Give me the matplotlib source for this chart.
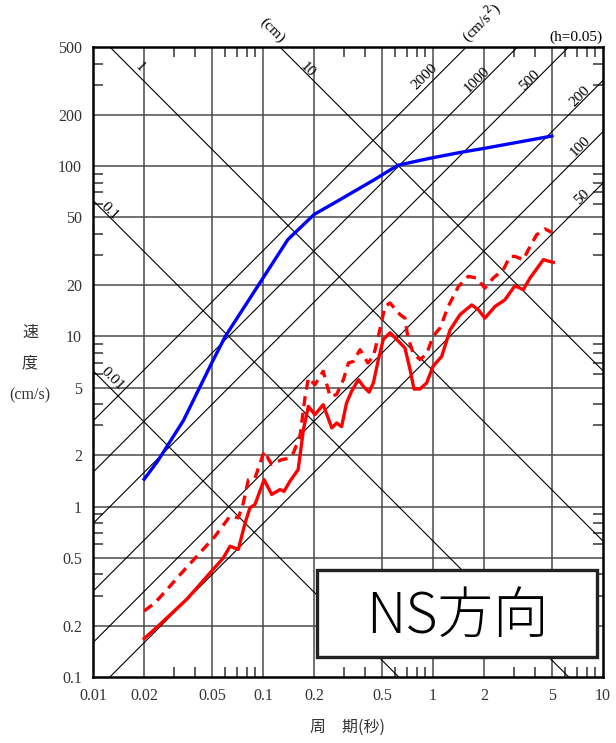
import numpy as np
import matplotlib
matplotlib.use('Agg')
import matplotlib.pyplot as plt
from matplotlib.ticker import FixedLocator, NullFormatter
from matplotlib.patches import Rectangle

# ------------------------------ DATA -----------------------------------------
# Blue curve (period [s], velocity [cm/s])
T_blue = [0.02, 0.024, 0.034, 0.05, 0.06, 0.1, 0.14, 0.2, 0.28, 0.45, 0.62,
          0.84, 1.0, 1.5, 2.0, 5.0]
Sv_blue = [1.45, 1.85, 3.2, 7.0, 10.0, 22.0, 37.0, 52.0, 63.0, 83.0, 101.0,
           108.0, 112.0, 121.0, 127.0, 150.0]

# Red solid curve
T_red = [0.02, 0.0248, 0.0356, 0.0584, 0.064, 0.0716, 0.0784, 0.0838, 0.0897, 0.1015,
         0.1125, 0.126, 0.133, 0.144, 0.161, 0.173, 0.185, 0.202, 0.226, 0.254, 0.271,
         0.29, 0.31, 0.332, 0.364, 0.389, 0.421, 0.446, 0.477, 0.51, 0.559, 0.611,
         0.684, 0.733, 0.773, 0.839, 0.918, 1.0, 1.125, 1.26, 1.44, 1.69, 1.85, 2.02,
         2.32, 2.65, 3.03, 3.4, 3.72, 4.46, 5.1]
Sv_red = [0.168, 0.204, 0.286, 0.50, 0.586, 0.561, 0.80, 0.985, 1.03, 1.44,
          1.18, 1.26, 1.23, 1.41, 1.65, 2.84, 3.88, 3.47, 3.97, 2.90, 3.1,
          2.95, 4.06, 4.76, 5.57, 5.09, 4.7, 5.33, 7.3, 9.6, 10.5, 9.6,
          8.55, 6.38, 4.91, 4.91, 5.33, 6.67, 7.63, 10.9, 13.4, 15.3, 14.3, 12.8,
          15.0, 16.4, 19.8, 18.8, 22.0, 28.2, 27.2]

# Red dashed curve
T_dash = [0.02, 0.0232, 0.0284, 0.034, 0.0426, 0.0522, 0.064, 0.0716, 0.0766, 0.082,
          0.0897, 0.1015, 0.1125, 0.129, 0.141, 0.151, 0.165, 0.177, 0.185, 0.202,
          0.226, 0.248, 0.271, 0.297, 0.318, 0.34, 0.372, 0.414, 0.446, 0.477, 0.522,
          0.559, 0.64, 0.684, 0.71, 0.766, 0.839, 0.918, 1.0, 1.1, 1.23, 1.41, 1.61,
          1.81, 2.02, 2.26, 2.59, 2.84, 3.03, 3.4, 3.64, 4.07, 4.56, 4.99]
Sv_dash = [0.244, 0.273, 0.342, 0.419, 0.536, 0.67, 0.88, 0.86, 1.05, 1.44,
           1.47, 2.11, 1.77, 1.89, 1.92, 2.07, 2.59, 4.44, 5.7, 5.2,
           6.24, 4.44, 4.55, 5.57, 6.98, 7.13, 8.35, 6.98, 7.63, 10.0, 15.0,
           15.7, 13.4, 12.8, 10.0, 7.9, 7.3, 7.9, 10.0, 11.2, 15.0, 19.6, 22.5,
           22.0, 19.2, 22.0, 24.6, 29.5, 29.5, 28.2, 32.3, 39.5, 42.7, 40.8]

# Tripartite reference lines
disp_vals = [0.01, 0.1, 1, 10]            # displacement [cm]
acc_vals = [50, 100, 200, 500, 1000, 2000]  # acceleration [cm/s^2]

x_ticks = [0.01, 0.02, 0.05, 0.1, 0.2, 0.5, 1, 2, 5, 10]
x_ticklabels = ['0.01', '0.02', '0.05', '0.1', '0.2', '0.5', '1', '2', '5', '10']
y_ticks = [0.1, 0.2, 0.5, 1, 2, 5, 10, 20, 50, 100, 200, 500]
y_ticklabels = ['0.1', '0.2', '0.5', '1', '2', '5', '10', '20', '50', '100', '200', '500']

# ------------------------------ PLOTTING -------------------------------------
serif = 'Liberation Serif'
cjk = ['Noto Sans CJK JP', 'DejaVu Sans']

fig = plt.figure(figsize=(6.16, 7.43), dpi=100)
ax = fig.add_axes([93/616, 1-677/743, 510/616, 630/743])
ax.set_xscale('log')
ax.set_yscale('log')
ax.set_xlim(0.01, 10)
ax.set_ylim(0.1, 500)

# grid lines
grid_c = '#4a4a4a'
for t in x_ticks[1:-1]:
    ax.axvline(t, color=grid_c, lw=1.1, zorder=1)
for v in y_ticks[1:-1]:
    ax.axhline(v, color=grid_c, lw=1.1, zorder=1)

# displacement and acceleration lines
T_line = np.logspace(-2, 1, 200)
for d in disp_vals:
    ax.plot(T_line, 2*np.pi*d/T_line, color='black', lw=0.8, zorder=2)
for a in acc_vals:
    ax.plot(T_line, a*T_line/(2*np.pi), color='black', lw=0.8, zorder=2)

lab_kw = dict(fontsize=11, family=serif, ha='center', va='center', zorder=3)
ax.text(0.0189, 382, '1', rotation=-45, **lab_kw)
ax.text(0.184, 366, '10', rotation=-45, **lab_kw)
ax.text(0.0126, 54, '0.1', rotation=-45, **lab_kw)
ax.text(0.0129, 5.6, '0.01', rotation=-45, **lab_kw)
ax.text(0.898, 333, '2000', rotation=45, **lab_kw)
ax.text(1.815, 320, '1000', rotation=45, **lab_kw)
ax.text(3.72, 320, '500', rotation=45, **lab_kw)
ax.text(7.32, 255, '200', rotation=45, **lab_kw)
ax.text(7.32, 130, '100', rotation=45, **lab_kw)
ax.text(7.52, 66, '50', rotation=45, **lab_kw)
ax.text(0.113, 629, '(cm)', rotation=-45, clip_on=False, **lab_kw)
ax.text(1.94, 692, '(cm/s$^2$)', rotation=45, clip_on=False, **lab_kw)
ax.text(1.0, 1.004, '(h=0.05)', transform=ax.transAxes, ha='right', va='bottom',
        fontsize=11, family=serif)

# spectra
ax.plot(T_blue, Sv_blue, color='#0000ff', lw=2.4, zorder=4)
ax.plot(T_red, Sv_red, color='#ff0000', lw=2.4, zorder=4)
ax.plot(T_dash, Sv_dash, color='#ff0000', lw=2.4, ls=(0, (3, 2)), zorder=4)

# ticks
ax.xaxis.set_major_locator(FixedLocator(x_ticks))
ax.set_xticklabels(x_ticklabels, family=serif, fontsize=11.5)
ax.yaxis.set_major_locator(FixedLocator(y_ticks))
ax.set_yticklabels(y_ticklabels, family=serif, fontsize=11.5)
x_minor = [m*10.0**e for e in (-2, -1, 0) for m in (3, 4, 6, 7, 8, 9)]
y_minor = [m*10.0**e for e in (-1, 0, 1, 2) for m in (3, 4, 6, 7, 8, 9)]
ax.xaxis.set_minor_locator(FixedLocator(x_minor))
ax.yaxis.set_minor_locator(FixedLocator([v for v in y_minor if v < 500]))
ax.xaxis.set_minor_formatter(NullFormatter())
ax.yaxis.set_minor_formatter(NullFormatter())
ax.tick_params(which='major', length=0, pad=8, colors='#333333')
ax.tick_params(which='minor', direction='in', length=7, width=1.1, color='#333333',
               top=True, right=True)
for s in ax.spines.values():
    s.set_linewidth(1.8)
    s.set_zorder(6)

# box label
ax.add_patch(Rectangle((0.439, 0.0317), 0.549, 0.1381, transform=ax.transAxes,
                       facecolor='white', edgecolor='#222222', lw=2.4, zorder=7))
ax.text(0.714, 0.0952, 'NS方向', transform=ax.transAxes, ha='center', va='center',
        fontsize=40, family=cjk, fontweight='light', zorder=8)

# axis titles
fig.text(30/616, 1-332/743, '速', ha='center', va='center', fontsize=11.5, family=cjk,
         color='#333333')
fig.text(30/616, 1-363/743, '度', ha='center', va='center', fontsize=11.5, family=cjk,
         color='#333333')
fig.text(30/616, 1-395/743, '(cm/s)', ha='center', va='center', fontsize=11.5,
         family=serif, color='#333333')
fig.text(348/616, 1-727/743, '周　期(秒)', ha='center', va='center', fontsize=11.5,
         family=cjk, color='#333333')

fig.savefig('out.png', dpi=100)
